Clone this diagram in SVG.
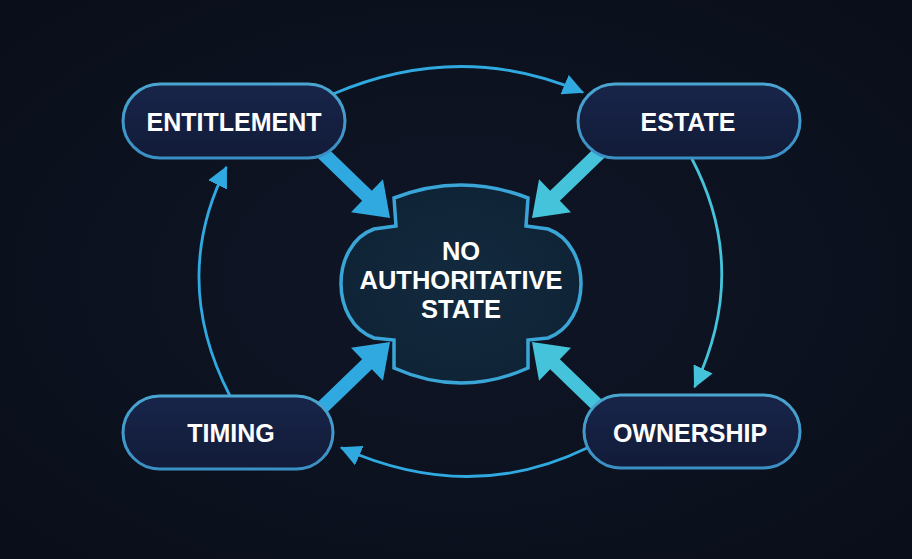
<svg xmlns="http://www.w3.org/2000/svg" width="912" height="559" viewBox="0 0 912 559">
<defs>
<radialGradient id="bg" cx="50%" cy="50%" r="70%">
<stop offset="0" stop-color="#0f1626"/>
<stop offset="1" stop-color="#0a0e1a"/>
</radialGradient>
<linearGradient id="nodeFill" x1="0" y1="0" x2="0" y2="1">
<stop offset="0" stop-color="#18254a"/>
<stop offset="1" stop-color="#121b38"/>
</linearGradient>
<linearGradient id="nodeStroke" x1="0" y1="0" x2="0" y2="1">
<stop offset="0" stop-color="#4aa6d0"/>
<stop offset="1" stop-color="#3a8fc4"/>
</linearGradient>
<radialGradient id="coreFill" cx="50%" cy="50%" r="60%">
<stop offset="0" stop-color="#132a3e"/>
<stop offset="1" stop-color="#0f2235"/>
</radialGradient>
<marker id="ahBlue" viewBox="0 0 10 10" refX="9" refY="5" markerWidth="7.5" markerHeight="7.5" markerUnits="strokeWidth" orient="auto">
<path d="M0,0 L10,5 L0,10 Z" fill="#2fa9e0"/>
</marker>
<marker id="ahCyan" viewBox="0 0 10 10" refX="9" refY="5" markerWidth="7.5" markerHeight="7.5" markerUnits="strokeWidth" orient="auto">
<path d="M0,0 L10,5 L0,10 Z" fill="#45c3da"/>
</marker>
</defs>
<style>
.node rect{fill:url(#nodeFill);stroke:url(#nodeStroke);stroke-width:3}
.label{font-family:"Liberation Sans",Arial,sans-serif;font-weight:bold;font-size:25px;fill:#ffffff;text-anchor:middle}
.core-label{font-size:25.5px}
.cycle{fill:none;stroke-width:2.8;stroke-linecap:round}
.blue{stroke:#2fa9e0}
.cyan{stroke:#45c3da}
.big.blue{fill:#2fa9e0;stroke:none}
.big.cyan{fill:#45c3da;stroke:none}
</style>
<rect x="0" y="0" width="912" height="559" fill="url(#bg)"/>

<g id="connectors">
<path class="cycle blue" d="M333,94 Q460,40 582,92" marker-end="url(#ahBlue)"/>
<path class="cycle cyan" d="M692,159 Q750,270 695,386" marker-end="url(#ahCyan)"/>
<path class="cycle blue" d="M587,448 Q470,505 342,448" marker-end="url(#ahBlue)"/>
<path class="cycle blue" d="M230,396 Q170,280 226,168" marker-end="url(#ahBlue)"/>

<g class="big blue" transform="translate(390,218) rotate(44)">
<path d="M-100,-7 L-32,-7 L-32,-23 L0,0 L-32,23 L-32,7 L-100,7 Z"/>
</g>
<g class="big cyan" transform="translate(532,218) rotate(136)">
<path d="M-100,-7 L-32,-7 L-32,-23 L0,0 L-32,23 L-32,7 L-100,7 Z"/>
</g>
<g class="big blue" transform="translate(390,342) rotate(-44)">
<path d="M-100,-7 L-32,-7 L-32,-23 L0,0 L-32,23 L-32,7 L-100,7 Z"/>
</g>
<g class="big cyan" transform="translate(532,342) rotate(-136)">
<path d="M-100,-7 L-32,-7 L-32,-23 L0,0 L-32,23 L-32,7 L-100,7 Z"/>
</g>
</g>

<g id="core">
<path d="M394,198 Q461,172 528,198 L526,226 L548,229 C592,245 592,322 548,338 L528,340 L528,368 Q461,398 394,368 L394,340 L374,338 C330,322 330,245 374,229 L396,226 Z" fill="url(#coreFill)" stroke="#3aa6d8" stroke-width="3.5" stroke-linejoin="miter"/>
<text class="label core-label" x="461" y="260">NO</text>
<text class="label core-label" x="461" y="289">AUTHORITATIVE</text>
<text class="label core-label" x="461" y="318">STATE</text>
</g>

<g id="entitlement" class="node">
<rect x="123" y="84" width="222" height="74" rx="37"/>
<text class="label" x="234" y="131">ENTITLEMENT</text>
</g>
<g id="estate" class="node">
<rect x="578" y="84" width="222" height="74" rx="37"/>
<text class="label" x="688" y="131">ESTATE</text>
</g>
<g id="timing" class="node">
<rect x="123" y="396" width="210" height="73" rx="36.5"/>
<text class="label" x="231" y="442">TIMING</text>
</g>
<g id="ownership" class="node">
<rect x="584" y="395" width="216" height="73" rx="36.5"/>
<text class="label" x="690" y="442">OWNERSHIP</text>
</g>
</svg>
